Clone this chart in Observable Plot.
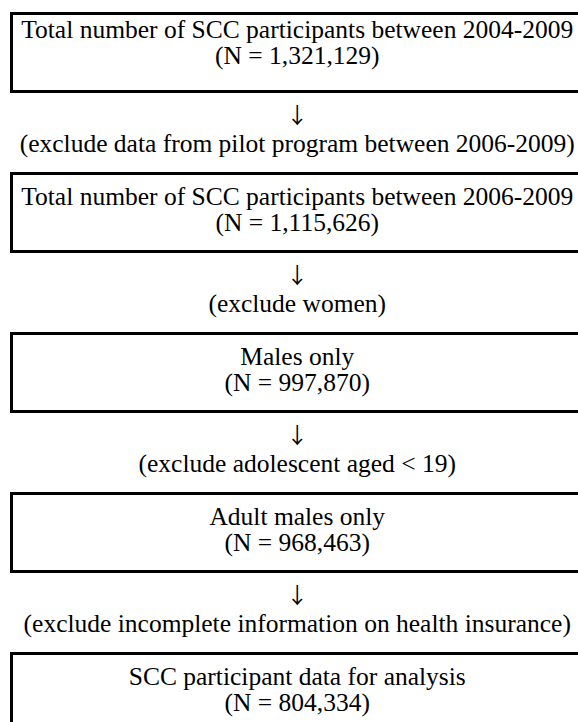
<!DOCTYPE html>
<html><head><meta charset="utf-8">
<script src="https://cdn.jsdelivr.net/npm/d3@7"></script>
<script src="https://cdn.jsdelivr.net/npm/@observablehq/plot@0.6"></script>
<style>html,body{margin:0;padding:0;background:#fff;overflow:hidden;}</style>
</head><body><div id="chart"></div>
<script>
// Flowchart content
const steps = [
  "Total number of SCC participants between 2004-2009",
  "Total number of SCC participants between 2006-2009",
  "Males only",
  "Adult males only",
  "SCC participant data for analysis"
];
const counts = ["1,321,129", "1,115,626", "997,870", "968,463", "804,334"];
const exclusions = [
  "exclude data from pilot program between 2006-2009",
  "exclude women",
  "exclude adolescent aged < 19",
  "exclude incomplete information on health insurance"
];

const boxes = steps.map((s, i) => ({i, label: `${s}\n(N = ${counts[i]})`}));
const gaps = exclusions.map((e, i) => ({i, label: `(${e})`}));

const W = 578, H = 722;
const STEP = 160, TOP = 13.5;
const BOX = 78 / STEP;
const FS = 25.5;
const font = "'Liberation Serif', 'Times New Roman', serif";
// the first box's text sits closer to its top border in the original
const textShift = i => (i === 0 ? -10 : -3);

const chart = Plot.plot({
  width: W, height: H, margin: 0,
  x: {domain: [-0.5, 0.5], range: [11.5, 582], axis: null},
  y: {domain: [-TOP / STEP, (H - TOP) / STEP], range: [0, H], axis: null},
  style: {fontFamily: font, background: "#fff", overflow: "hidden", color: "#000"},
  marks: [
    Plot.rect(boxes, {x1: -0.5, x2: 0.5, y1: d => d.i, y2: d => d.i + BOX, fill: "none", stroke: "#000", strokeWidth: 3}),
    Plot.text(boxes, {x: 0, y: d => d.i + (BOX * STEP / 2 + textShift(d.i)) / STEP, text: "label", fontSize: FS, lineHeight: 1, fill: "#000"}),
    Plot.text(gaps, {x: 0, y: d => d.i + (78 + 24) / STEP, text: () => "↓", fontSize: 22, fontFamily: "'Noto Sans CJK JP', 'DejaVu Sans', sans-serif", fill: "#000"}),
    Plot.text(gaps, {x: 0, y: d => d.i + (78 + 52) / STEP, text: "label", fontSize: FS, fill: "#000"})
  ]
});
document.getElementById("chart").appendChild(chart);
</script>
</body></html>
